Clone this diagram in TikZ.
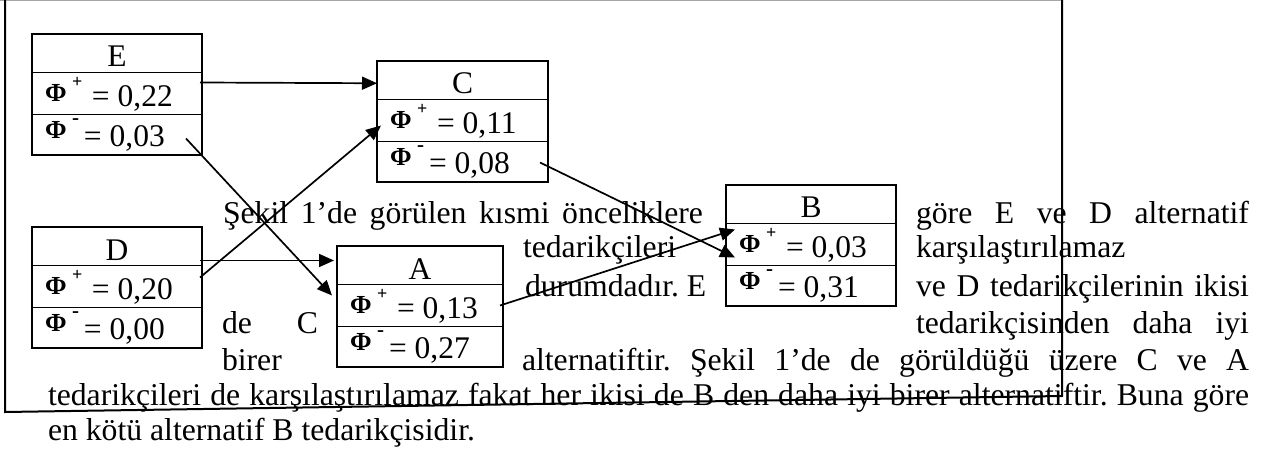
\documentclass[tikz,border=0pt]{standalone}
\usepackage{fontspec}
\setmainfont{Liberation Serif}
\usepackage{graphicx}
\usetikzlibrary{arrows.meta,calc}
\frenchspacing
\tikzset{
  rowbox/.style={draw, line width=1.3pt, inner sep=0pt, outer sep=0pt, anchor=north west},
  bodytxt/.style={inner sep=0pt, outer sep=0pt, anchor=base west, font=\fontsize{31.7}{36}\selectfont},
  boxtxt/.style={inner sep=0pt, outer sep=0pt, font=\fontsize{31.5}{36}\selectfont},
  conn/.style={line width=1.7pt, -{Triangle[length=15pt,width=13pt]}},
  outerframe/.style={line width=2pt, line join=miter}
}
\newcommand\phisym{{\fontsize{26}{26}\selectfont\bfseries Φ}}
\newcommand\phiplus[1]{\rlap{\raisebox{5pt}{\phisym}}\hspace*{27pt}\rlap{\raisebox{19pt}{\fontsize{18}{18}\selectfont\bfseries +}}\hspace*{20pt}= #1}
\newcommand\phiminus[1]{\rlap{\raisebox{8pt}{\phisym}}\hspace*{27pt}\rlap{\raisebox{22pt}{\fontsize{21}{21}\selectfont\bfseries -}}\hspace*{12pt}= #1}
\newcommand\altbox[7]{%
  \node[rowbox, minimum width=#4pt, minimum height=38.5pt] (#1h) at (#2,#3) {};
  \node[rowbox, minimum width=#4pt, minimum height=42pt] (#1p) at (#1h.south west) {};
  \node[rowbox, minimum width=#4pt, minimum height=40.5pt] (#1m) at (#1p.south west) {};
  \node[boxtxt, anchor=base] (#1L) at ($(#1h.north)+(0,33)$) {#5};
  \node[boxtxt, anchor=base west] (#1P) at ($(#1p.north west)+(13,34)$) {\phiplus{#6}};
  \node[boxtxt, anchor=base west] (#1M) at ($(#1m.north west)+(13,32)$) {\phiminus{#7}};
}
\begin{document}
\begin{tikzpicture}[x=1pt,y=-1pt]
\useasboundingbox (0,0) rectangle (1266,457);
\fill[white] (0,0) rectangle (1266,457);

% outer frame
\draw[gray!70, line width=1pt] (0,0.5) -- (1062,0.5);
\draw[outerframe] (5,0) -- (5,412) -- (1062,396) -- (1062,0);

% boxes
\altbox{E}{32}{34}{170}{E}{0,22}{0,03}
\altbox{C}{377}{61}{171}{C}{0,11}{0,08}
\altbox{D}{32}{227}{170}{D}{0,20}{0,00}
\altbox{A}{337}{246}{166}{A}{0,13}{0,27}
\altbox{B}{726}{185}{170}{B}{0,03}{0,31}

% body text
\node[bodytxt] (t1a) at (223,223) {\makebox[480pt][s]{Şekil 1’de görülen kısmi önceliklere}};
\node[bodytxt] (t1b) at (916,223) {\makebox[333pt][s]{göre E ve D alternatif}};
\node[bodytxt] (t2a) at (523,258) {tedarikçileri};
\node[bodytxt] (t2b) at (916,258) {karşılaştırılamaz};
\node[bodytxt] (t3a) at (525,296) {durumdadır. E};
\node[bodytxt] (t3b) at (916,296) {\makebox[333pt][s]{ve D tedarikçilerinin ikisi}};
\node[bodytxt] (t4a) at (222,333) {\makebox[96pt][s]{de C}};
\node[bodytxt] (t4b) at (916,333) {\makebox[333pt][s]{tedarikçisinden daha iyi}};
\node[bodytxt] (t5a) at (222,370) {birer};
\node[bodytxt] (t5b) at (522,370) {\makebox[727pt][s]{alternatiftir. Şekil 1’de de görüldüğü üzere C ve A}};
\node[bodytxt] (t6) at (48,405) {\makebox[1201pt][s]{tedarikçileri de karşılaştırılamaz fakat her ikisi de B den daha iyi birer alternatiftir. Buna göre}};
\node[bodytxt] (t7) at (48,440) {en kötü alternatif B tedarikçisidir.};

% connectors
\draw[conn] ($(Ep.north east)+(-2,10)$) -- ($(Ch.west)+(0,3)$);
\draw[conn] ($(Em.north east)+(-16,24)$) -- ($(Ap.north west)+(-5,11)$);
\draw[conn] ($(Dp.north east)+(-2,12)$) -- ($(Cp.north west)+(4,26)$);
\draw[conn] ($(Dp.north east)+(-2,-5)$) -- ($(Ap.north west)+(-3,-24)$);
\draw[conn] ($(Cm.north east)+(-8,21)$) -- ($(Bp.south west)+(9,-8)$);
\draw[conn] ($(Ap.north east)+(-3,21)$) -- ($(Bp.north west)+(9,6)$);
\end{tikzpicture}
\end{document}
